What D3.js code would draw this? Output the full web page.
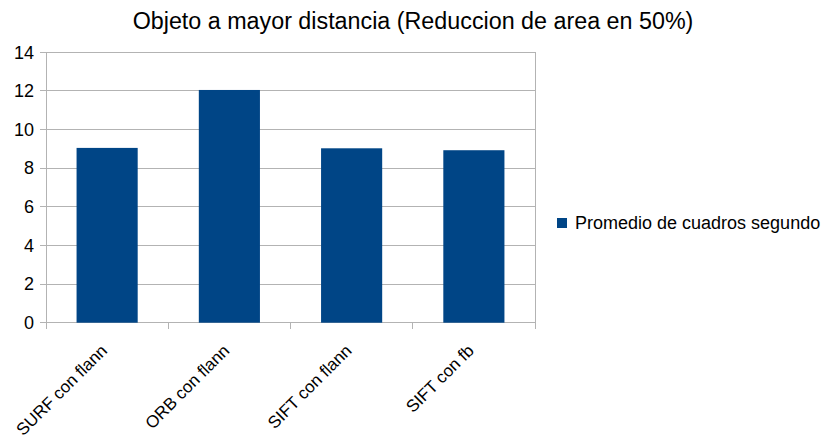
<!DOCTYPE html>
<html><head><meta charset="utf-8">
<script src="https://cdn.jsdelivr.net/npm/d3@7/dist/d3.min.js"></script>
<style>body{margin:0;background:#fff}svg{display:block}text{font-family:"Liberation Sans",Arial,sans-serif}</style>
</head><body>
<svg id="c" width="825" height="440"></svg>
<script>
const categories = ["SURF con flann", "ORB con flann", "SIFT con flann", "SIFT con fb"];
const values = [9.05, 12.05, 9.03, 8.93];
const yTicks = [0, 2, 4, 6, 8, 10, 12, 14];
const seriesName = "Promedio de cuadros segundo";
const title = "Objeto a mayor distancia (Reduccion de area en 50%)";

const svg = d3.select("#c");
const L = 46, R = 535, T = 52.3, B = 322.7;
const x = d3.scaleBand().domain(categories).range([L, R]).paddingInner(0.5).paddingOuter(0.25);
const xb = d3.scaleBand().domain(categories).range([L, R]);
const y = d3.scaleLinear().domain([0, 14]).range([B, T]);
const grid = "#b3b3b3";

svg.append("text").attr("x", 413).attr("y", 29).attr("text-anchor", "middle")
  .attr("font-size", 23.3).attr("fill", "#000").text(title);

// gridlines
svg.append("g").selectAll("line").data(yTicks).join("line")
  .attr("x1", L - 6).attr("x2", R).attr("y1", d => y(d)).attr("y2", d => y(d))
  .attr("stroke", grid).attr("stroke-width", 1).attr("shape-rendering", "crispEdges");
// y axis line & right border
svg.append("line").attr("x1", L).attr("x2", L).attr("y1", T).attr("y2", B + 6).attr("stroke", grid).attr("shape-rendering", "crispEdges");
svg.append("line").attr("x1", R).attr("x2", R).attr("y1", T).attr("y2", B + 6).attr("stroke", grid).attr("shape-rendering", "crispEdges");
// x ticks
svg.append("g").selectAll("line").data(categories.slice(1)).join("line")
  .attr("x1", d => xb(d)).attr("x2", d => xb(d)).attr("y1", B).attr("y2", B + 6)
  .attr("stroke", grid).attr("shape-rendering", "crispEdges");

// bars
svg.append("g").selectAll("rect").data(values).join("rect")
  .attr("x", (d, i) => x(categories[i])).attr("width", x.bandwidth())
  .attr("y", d => y(d)).attr("height", d => B - y(d)).attr("fill", "#004586");

// y labels
svg.append("g").selectAll("text").data(yTicks).join("text")
  .attr("x", L - 12).attr("y", d => y(d)).attr("dy", "0.35em").attr("text-anchor", "end")
  .attr("font-size", 18).attr("fill", "#000").text(d => d);

// x labels
svg.append("g").selectAll("text").data(categories).join("text")
  .attr("transform", d => `translate(${xb(d) + xb.bandwidth() / 2 + 1},${B + 29}) rotate(-45)`)
  .attr("text-anchor", "end").attr("font-size", 17).attr("fill", "#000").text(d => d);

// legend
svg.append("rect").attr("x", 557).attr("y", 218).attr("width", 10).attr("height", 10).attr("fill", "#004586");
svg.append("text").attr("x", 575).attr("y", 223).attr("dy", "0.35em").attr("font-size", 18).attr("fill", "#000").text(seriesName);
</script>
</body></html>
